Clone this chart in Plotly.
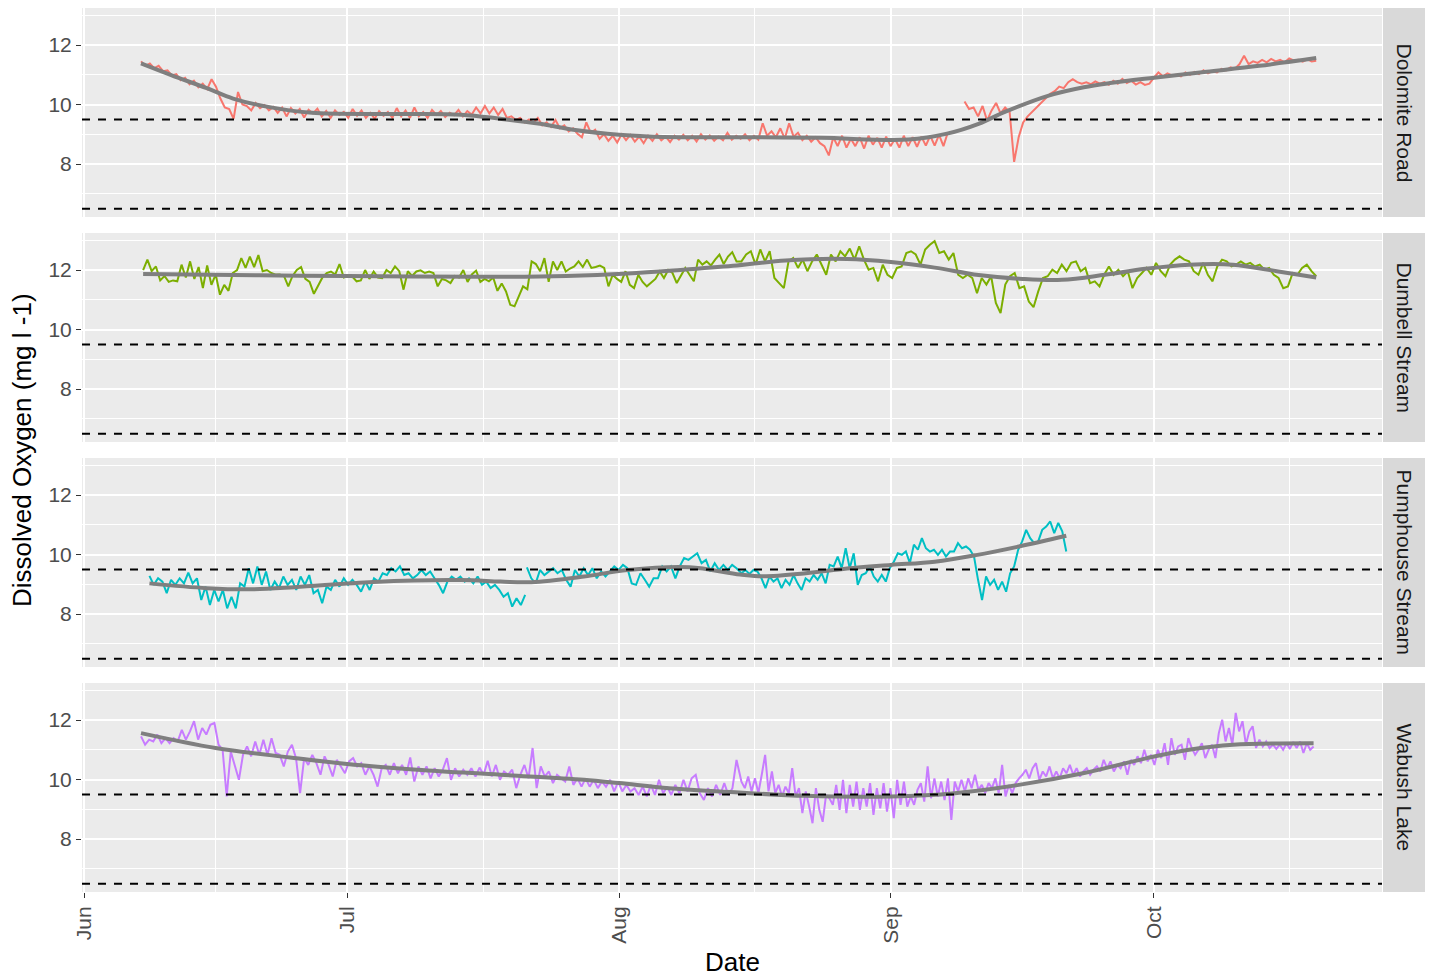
import datetime as dt
import plotly.graph_objects as go

# ---------------- data ----------------
BASE_DATE = dt.datetime(2018, 6, 1)   # day 0 of the season

SITES = ["Dolomite Road", "Dumbell Stream", "Pumphouse Stream", "Wabush Lake"]
COLORS = ["#F8766D", "#7CAE00", "#00BFC4", "#C77CFF"]
HLINES = [9.5, 6.5]

X_TICK_DATES = ["2018-06-01", "2018-07-01", "2018-08-01", "2018-09-01", "2018-10-01"]
X_TICK_LABELS = ["Jun", "Jul", "Aug", "Sep", "Oct"]
X_MINOR_DATES = ["2018-06-16", "2018-07-16 12:00", "2018-08-16 12:00", "2018-09-16", "2018-10-16 12:00"]
Y_TICKS = [8, 10, 12]
Y_MINOR = [7, 9, 11, 13]
X_RANGE_DAYS = (-0.23, 148.0)
Y_RANGE = (6.219, 13.244)

# Dolomite Road (days since Jun 1 for each segment span)
DOL_SPAN_1 = (6.5, 98.5)
DOL_DO_1 = [11.45, 11.3, 11.38, 11.22, 11.3, 11.12, 11.15, 10.98, 11.02, 10.82, 10.9, 10.68, 10.8, 10.58, 10.7, 10.52, 10.85,
            10.6, 10.2, 9.9, 9.85, 9.52, 10.42, 10.0, 9.95,
            9.8, 10.05, 9.88, 9.98, 9.8, 9.92, 9.72, 9.9, 9.6, 9.88, 9.7, 9.85, 9.56, 9.82, 9.7, 9.86, 9.6, 9.78, 9.55, 9.8, 9.65, 9.75, 9.55,
            9.85, 9.62, 9.8, 9.55, 9.72, 9.52, 9.78, 9.62, 9.75, 9.55, 9.88, 9.6, 9.8, 9.55, 9.9, 9.6, 9.75, 9.55, 9.82, 9.65, 9.78, 9.58, 9.72, 9.64, 9.82, 9.6, 9.78, 9.66, 9.9, 9.7,
            9.95, 9.7, 9.9, 9.65, 9.85, 9.55, 9.6, 9.48, 9.55, 9.4, 9.5, 9.38, 9.55, 9.3, 9.4, 9.25, 9.48, 9.2, 9.3, 9.1, 9.2, 9.02, 8.9,
            9.4, 9.05, 9.15, 8.85, 9.0, 8.78, 8.95, 8.72, 9.0, 8.8, 8.98, 8.75, 8.92, 8.7, 8.95, 8.78, 9.0, 8.8, 8.92, 8.74, 8.95, 8.82,
            8.98, 8.8, 8.95, 8.76, 9.0, 8.82, 8.96, 8.78, 8.92, 8.8, 9.05, 8.82, 8.95, 8.85, 9.0, 8.8, 8.95, 8.82,
            9.37, 8.95, 9.1, 8.9, 9.2, 8.85, 9.37, 8.92, 9.05, 8.8, 8.95, 8.75, 8.9, 8.7, 8.6, 8.29,
            8.9, 8.6, 8.95, 8.55, 8.85, 8.6, 8.9, 8.52, 8.95, 8.65, 8.88, 8.55, 8.92, 8.6, 8.85, 8.55, 8.95, 8.6, 8.9, 8.58, 8.92, 8.62, 8.95, 8.62, 8.98, 8.6, 9.07]
DOL_SPAN_2 = (100.4, 140.5)
DOL_DO_2 = [10.1, 9.85, 9.9, 9.6, 9.95, 9.46, 9.8, 10.05, 9.7, 9.9, 9.75,
            8.07, 8.9, 9.4, 9.6, 9.75, 9.9, 10.05, 10.2, 10.36, 10.45, 10.6, 10.55, 10.75, 10.85, 10.75, 10.7,
            10.75, 10.68, 10.78, 10.7, 10.75, 10.66, 10.8, 10.7, 10.86, 10.72, 10.8, 10.67, 10.75, 10.66, 10.7,
            10.9, 11.08, 10.95, 11.05, 10.98, 11.0, 10.95, 11.08, 11.0, 11.1, 11.02, 11.15, 11.05, 11.12, 11.08, 11.2, 11.15, 11.25, 11.2,
            11.36, 11.64, 11.36, 11.45, 11.4, 11.5, 11.42, 11.53, 11.45, 11.5, 11.42, 11.55, 11.48, 11.5, 11.44, 11.52, 11.45, 11.47]

# Dumbell Stream
DUM_SPAN_1 = (6.74, 74.4)
DUM_DO_1 = [12.0, 12.35, 11.96, 12.12, 11.65, 11.8, 11.6, 11.65, 11.62, 12.18, 11.75, 12.29, 11.7, 12.1, 11.39, 12.15, 11.5, 11.85,
            11.17, 11.5, 11.3, 11.9, 12.0, 12.4, 12.07, 12.45, 12.1, 12.5, 11.96, 12.0, 11.9, 11.84, 11.85, 11.8, 11.45, 11.8,
            12.0, 12.1, 11.7, 11.6, 11.2, 11.5, 11.75, 11.9, 11.95, 11.85, 12.2, 11.75, 11.8, 11.78, 11.62, 11.65, 12.0, 11.7,
            11.95, 11.75, 11.73, 12.0, 11.9, 12.12, 11.96, 11.34, 11.96, 11.8, 11.95, 11.99, 11.9, 11.95, 11.9, 11.45, 11.7,
            11.65, 11.56, 11.8, 11.75, 12.0, 11.6, 11.85, 11.98, 11.6, 11.7, 11.62, 11.75, 11.3, 11.55, 11.28, 10.83, 10.78,
            11.1, 11.45, 11.35, 12.29, 12.2, 11.96, 12.4, 11.6, 12.29, 12.0, 12.29, 11.95, 12.05, 12.12, 12.29, 12.1, 12.35,
            12.07, 12.1, 12.15, 12.07, 11.45, 11.84, 11.7, 11.6, 11.96, 11.5, 11.39, 11.84, 11.6, 11.45, 11.56, 11.7, 11.95,
            11.73, 12.0, 11.9, 11.56, 11.8, 12.07, 11.84, 11.62, 12.35, 12.18, 12.29, 12.15, 12.35, 12.52, 12.2, 12.45, 12.6, 12.29]
DUM_SPAN_2 = (74.96, 140.5)
DUM_DO_2 = [12.29, 12.52, 12.63, 12.18, 12.69, 12.29, 12.63, 11.73, 11.56, 11.39, 12.29, 12.4, 12.07, 12.35, 11.96, 12.29,
            12.52, 12.18, 11.84, 12.52, 12.29, 12.63, 12.46, 12.72, 12.35, 12.8, 12.35, 12.01, 12.07, 11.62, 12.18, 11.84,
            11.73, 12.07, 12.12, 12.57, 12.63, 12.52, 12.18, 12.69, 12.85, 12.97, 12.57, 12.63, 12.35, 12.57, 11.84, 11.73,
            11.84, 11.73, 11.22, 11.73, 11.51, 11.79, 10.89, 10.55, 11.51, 11.79, 11.9, 11.39, 11.45, 10.94, 10.75, 11.28,
            11.73, 11.79, 12.01, 11.9, 12.18, 11.96, 12.24, 12.29, 11.96, 12.07, 11.56, 11.62, 11.45, 11.84, 12.12, 11.84,
            12.01, 11.79, 11.96, 11.39, 11.73, 11.9, 12.07, 11.84, 12.24, 11.96, 11.79, 12.18, 12.35, 12.46, 12.35, 12.29,
            11.96, 11.84, 12.24, 11.84, 11.62, 12.12, 12.35, 12.29, 12.12, 12.18, 12.29, 12.18, 12.24, 12.12, 12.18, 12.01,
            12.07, 11.84, 11.73, 11.39, 11.45, 11.9, 11.84, 12.07, 12.18, 11.96, 11.79]

# Pumphouse Stream
PUM_SPAN_1 = (7.46, 50.3)
PUM_DO_1 = [9.28, 8.98, 9.2, 9.09, 8.7, 9.15, 8.98, 9.2, 9.03, 9.39, 9.03, 9.2, 8.47, 8.92, 8.3, 8.81, 8.42, 8.81, 8.19,
            8.58, 8.19, 9.03, 8.92, 9.54, 9.03, 9.6, 8.98, 9.43, 8.81, 9.09, 8.87, 9.26, 8.98, 9.15, 8.81, 9.26, 8.98, 9.31,
            8.7, 8.81, 8.36, 8.92, 8.81, 9.15, 8.92, 9.2, 8.98, 9.15, 8.98, 8.75, 9.09, 8.81, 9.2, 9.09, 9.37, 9.31, 9.54,
            9.43, 9.6, 9.31, 9.37, 9.2, 9.31, 9.48, 9.31, 9.43, 9.2, 8.98, 8.7, 9.09, 9.26, 9.15, 9.26, 9.09, 9.2, 9.03, 9.26,
            8.98, 9.09, 8.87, 8.98, 8.81, 8.58, 8.7, 8.25, 8.53, 8.3, 8.64]
PUM_SPAN_2 = (50.5, 74.4)
PUM_DO_2 = [9.57, 9.2, 9.03, 9.48, 9.31, 9.43, 9.54, 9.37, 9.48, 9.15, 8.92, 9.48, 9.26, 9.54, 9.31, 9.54, 9.2, 9.43,
            9.26, 9.43, 9.6, 9.48, 9.65, 9.54, 9.03, 8.98, 9.37, 9.15, 8.92, 9.2, 9.2, 9.6, 9.43, 9.6, 9.2, 9.6, 9.88, 9.82,
            9.93, 10.04, 9.71, 9.82, 9.43, 9.71, 9.48, 9.65, 9.48, 9.65, 9.54]
PUM_SPAN_3 = (74.96, 112.0)
PUM_DO_3 = [9.37, 9.48, 9.35, 9.48, 9.43, 9.2, 8.87, 9.26, 9.09, 9.2, 8.87, 9.15, 8.98, 9.31, 9.03, 8.81, 9.2, 9.09, 9.31,
            9.15, 9.37, 9.03, 9.65, 9.6, 9.93, 9.54, 10.21, 9.54, 10.04, 8.98, 9.31, 9.37, 9.6, 9.26, 9.09, 9.31, 9.09, 9.54,
            9.76, 10.04, 9.99, 10.1, 9.71, 10.33, 10.16, 10.55, 10.21, 10.1, 10.16, 9.99, 10.16, 9.93, 10.1, 10.1, 10.38,
            10.21, 10.27, 10.16, 9.93, 9.15, 8.47, 9.26, 8.98, 9.15, 8.81, 9.09, 8.75, 9.37, 9.6, 10.16, 10.44, 10.83, 10.55,
            10.38, 10.44, 10.83, 10.94, 11.11, 10.72, 11.06, 10.78, 10.1]

# Wabush Lake
WAB_SPAN_1 = (6.5, 74.4)
WAB_DO_1 = [11.45, 11.17, 11.34, 11.28, 11.51, 11.22, 11.39, 11.22, 11.39, 11.28, 11.67, 11.34, 11.62, 11.96, 11.34, 11.73,
            11.51, 11.84, 11.9, 11.17, 11.0, 9.43, 10.94, 10.49, 9.99, 10.83, 11.11, 10.78, 11.28, 10.83, 11.34, 10.83, 11.39,
            10.89, 10.83, 10.44, 10.94, 11.17, 10.72, 9.54, 10.72, 10.49, 10.83, 10.55, 10.16, 10.78, 10.49, 10.1, 10.66,
            10.44, 10.21, 10.61, 10.72, 10.44, 10.55, 10.16, 10.44, 10.16, 9.76, 10.38, 10.49, 10.16, 10.55, 10.21, 10.49,
            10.16, 10.74, 9.93, 10.44, 10.16, 10.44, 10.04, 10.38, 10.1, 10.33, 10.72, 9.99, 10.38, 10.1, 10.33, 10.16, 10.38,
            10.1, 10.4, 10.16, 10.63, 10.1, 10.49, 9.99, 10.27, 10.16, 10.33, 9.71, 10.16, 10.49, 10.04, 11.06, 9.71, 10.44,
            10.1, 10.27, 9.88, 10.16, 10.04, 9.93, 10.44, 9.82, 10.04, 9.76, 10.04, 9.76, 9.99, 9.71, 9.93, 9.76, 9.99, 9.6,
            9.93, 9.6, 9.82, 9.6, 9.71, 9.48, 9.76, 9.43, 9.82, 9.48, 9.99, 9.54, 9.76, 9.48, 9.82, 9.54, 9.99, 9.6, 10.04,
            10.16, 9.54, 9.31, 9.71, 9.43, 9.82, 9.48, 9.88, 9.48, 9.71, 10.66]
WAB_SPAN_2 = (74.96, 140.2)
WAB_DO_2 = [9.93, 9.71, 10.1, 9.6, 10.04, 9.54, 10.16, 10.83, 9.6, 10.27, 9.54, 9.82, 9.43, 9.76, 9.54, 10.38, 9.43, 9.71,
            8.87, 9.6, 9.09, 8.53, 9.71, 8.98, 8.58, 9.48, 9.37, 9.15, 9.82, 8.98, 9.99, 8.87, 9.82, 9.09, 9.93, 8.98, 9.71,
            9.09, 9.88, 8.81, 9.71, 9.03, 9.88, 8.92, 9.71, 8.7, 9.99, 9.15, 9.93, 9.09, 9.43, 9.15, 9.65, 9.88, 9.26, 10.44,
            9.37, 10.04, 9.43, 9.93, 9.31, 10.04, 8.64, 9.93, 9.6, 9.99, 9.6, 10.04, 9.71, 10.16, 9.65, 9.82, 9.54, 9.88, 9.71,
            10.04, 9.54, 10.49, 9.43, 9.82, 9.54, 9.88, 10.04, 10.16, 10.33, 10.04, 10.38, 10.55, 9.99, 10.27, 10.1, 10.44,
            10.04, 10.27, 10.04, 10.38, 10.21, 10.49, 10.16, 10.38, 10.1, 10.27, 10.38, 10.16, 10.33, 10.44, 10.27, 10.66,
            10.38, 10.61, 10.27, 10.49, 10.38, 10.61, 10.16, 10.66, 10.49, 10.78, 10.55, 11.0, 10.61, 10.83, 10.49, 11.0,
            10.72, 11.22, 10.49, 11.39, 10.83, 11.11, 11.17, 10.66, 11.39, 11.06, 10.83, 11.0, 11.22, 10.72, 11.0, 11.17,
            10.72, 11.56, 12.01, 11.28, 11.73, 11.17, 12.24, 11.62, 11.96, 11.17, 11.62, 11.79, 11.06, 11.34, 11.11, 11.28,
            11.06, 11.17, 11.03, 11.17, 11.0, 11.22, 11.03, 11.26, 11.06, 11.28, 10.89, 11.22, 11.0, 11.11]

# loess-like smooth curves (day, value)
DOL_SMOOTH_DAY = [6.5, 10, 14, 17, 21, 26, 34, 43, 47.5, 52, 56, 61, 65, 75, 84, 94, 98.4, 102, 105, 110, 114, 117, 122, 128, 134, 140.5]
DOL_SMOOTH_DO = [11.38, 10.98, 10.55, 10.2, 9.92, 9.72, 9.68, 9.66, 9.52, 9.35, 9.14, 8.98, 8.92, 8.9, 8.88, 8.82, 9.02, 9.35, 9.75, 10.3, 10.58, 10.72, 10.9, 11.1, 11.3, 11.56]
DUM_SMOOTH_DAY = [6.74, 20, 30, 45, 55, 62, 68, 74, 80, 87, 92, 97, 102, 107, 111.5, 116.4, 121, 126, 131, 136, 140.5]
DUM_SMOOTH_DO = [11.87, 11.82, 11.8, 11.77, 11.8, 11.88, 12.0, 12.14, 12.32, 12.37, 12.27, 12.08, 11.83, 11.7, 11.67, 11.84, 12.04, 12.18, 12.18, 11.96, 11.75]
PUM_SMOOTH_DAY = [7.46, 14, 19, 24, 33, 43, 47.5, 51, 57, 62, 69, 74.8, 77.4, 82.3, 87, 92, 97, 101.7, 106.6, 112]
PUM_SMOOTH_DO = [9.03, 8.87, 8.83, 8.9, 9.08, 9.14, 9.09, 9.07, 9.26, 9.48, 9.57, 9.33, 9.27, 9.37, 9.53, 9.65, 9.76, 9.98, 10.27, 10.63]
WAB_SMOOTH_DAY = [6.5, 15, 23.5, 30, 38, 47.5, 57, 61, 66.7, 72.5, 82.3, 92, 99.3, 106.6, 113.9, 121.2, 126, 131, 140.2]
WAB_SMOOTH_DO = [11.56, 11.06, 10.74, 10.52, 10.33, 10.16, 9.99, 9.88, 9.71, 9.6, 9.45, 9.43, 9.54, 9.82, 10.21, 10.72, 11.0, 11.17, 11.22]

SEGMENTS = {
    "Dolomite Road": [(DOL_SPAN_1, DOL_DO_1, False), (DOL_SPAN_2, DOL_DO_2, True)],
    "Dumbell Stream": [(DUM_SPAN_1, DUM_DO_1, False), (DUM_SPAN_2, DUM_DO_2, False)],
    "Pumphouse Stream": [(PUM_SPAN_1, PUM_DO_1, False), (PUM_SPAN_2, PUM_DO_2, True), (PUM_SPAN_3, PUM_DO_3, False)],
    "Wabush Lake": [(WAB_SPAN_1, WAB_DO_1, False), (WAB_SPAN_2, WAB_DO_2, False)],
}
SMOOTHS = {
    "Dolomite Road": (DOL_SMOOTH_DAY, DOL_SMOOTH_DO),
    "Dumbell Stream": (DUM_SMOOTH_DAY, DUM_SMOOTH_DO),
    "Pumphouse Stream": (PUM_SMOOTH_DAY, PUM_SMOOTH_DO),
    "Wabush Lake": (WAB_SMOOTH_DAY, WAB_SMOOTH_DO),
}


def to_date(day):
    return BASE_DATE + dt.timedelta(days=day)


def build(segs):
    xs, ys = [], []
    for (d0, d1), vals, gap in segs:
        if gap and xs:
            xs.append(None)
            ys.append(None)
        n = len(vals)
        for i, v in enumerate(vals):
            xs.append(to_date(d0 + (d1 - d0) * i / (n - 1)))
            ys.append(v)
    return xs, ys


# ---------------- layout geometry (pixels of the 1432x977 canvas) ----------------
W, H = 1432, 977
PANEL_X = (82, 1382)
STRIP_X = (1383, 1425)
PANELS_Y = [(8, 217), (233, 442), (458, 667), (683, 892)]
FONT = "Liberation Sans, Arial, Helvetica, sans-serif"


def px(x):
    return x / W


def py(y):
    return 1 - y / H


fig = go.Figure()
shapes, annotations = [], []
layout = dict(
    width=W, height=H, margin=dict(l=0, r=0, t=0, b=0, autoexpand=False),
    paper_bgcolor="white", plot_bgcolor="#EBEBEB",
    showlegend=False, font=dict(family=FONT),
)

for i, site in enumerate(SITES):
    sfx = "" if i == 0 else str(i + 1)
    xa, ya = "x" + sfx, "y" + sfx
    xs, ys = build(SEGMENTS[site])
    fig.add_trace(go.Scatter(x=xs, y=ys, mode="lines", connectgaps=False,
                             line=dict(color=COLORS[i], width=2.0),
                             xaxis=xa, yaxis=ya, hoverinfo="skip"))
    sd, sv = SMOOTHS[site]
    fig.add_trace(go.Scatter(x=[to_date(d) for d in sd], y=sv, mode="lines",
                             line=dict(color="#7F7F7F", width=4, shape="spline", smoothing=1.0),
                             xaxis=xa, yaxis=ya, hoverinfo="skip"))

    top, bot = PANELS_Y[i]
    last = i == len(SITES) - 1
    layout["xaxis" + sfx] = dict(
        domain=[px(PANEL_X[0]), px(PANEL_X[1])], anchor=ya, automargin=False,
        type="date", range=[to_date(X_RANGE_DAYS[0]), to_date(X_RANGE_DAYS[1])],
        tickmode="array", tickvals=X_TICK_DATES, ticktext=X_TICK_LABELS,
        showgrid=True, gridcolor="white", gridwidth=2, zeroline=False, showline=False,
        minor=dict(tickmode="array", tickvals=X_MINOR_DATES, showgrid=True, gridcolor="white", gridwidth=1, ticks=""),
        showticklabels=last, ticks="outside" if last else "", ticklen=5, tickwidth=1.2, tickcolor="#333333",
        tickangle=-90, tickfont=dict(size=21, color="#4D4D4D", family=FONT),
        **({} if i == 0 else {"matches": "x"}),
    )
    layout["yaxis" + sfx] = dict(
        domain=[py(bot), py(top)], anchor=xa, automargin=False,
        range=list(Y_RANGE), tickmode="array", tickvals=Y_TICKS,
        showgrid=True, gridcolor="white", gridwidth=2, zeroline=False, showline=False,
        minor=dict(tickmode="array", tickvals=Y_MINOR, showgrid=True, gridcolor="white", gridwidth=1, ticks=""),
        ticks="outside", ticklen=5, tickwidth=1.2, tickcolor="#333333",
        tickfont=dict(size=21, color="#4D4D4D", family=FONT),
    )
    for hv in HLINES:
        shapes.append(dict(type="line", xref=xa + " domain", x0=0, x1=1, yref=ya, y0=hv, y1=hv,
                           line=dict(color="black", width=2, dash="8px,8px"), layer="above"))
    shapes.append(dict(type="rect", xref="paper", yref="paper",
                       x0=px(STRIP_X[0]), x1=px(STRIP_X[1]), y0=py(bot), y1=py(top),
                       fillcolor="#D9D9D9", line=dict(width=0), layer="below"))
    annotations.append(dict(text=site, xref="paper", yref="paper",
                            x=px((STRIP_X[0] + STRIP_X[1]) / 2), y=py((top + bot) / 2),
                            textangle=90, showarrow=False, xanchor="center", yanchor="middle",
                            font=dict(size=21, color="#1A1A1A", family=FONT)))

annotations.append(dict(text="Dissolved Oxygen (mg l -1)", xref="paper", yref="paper",
                        x=px(22), y=py((PANELS_Y[0][0] + PANELS_Y[-1][1]) / 2), textangle=-90,
                        showarrow=False, xanchor="center", yanchor="middle",
                        font=dict(size=26, color="black", family=FONT)))
annotations.append(dict(text="Date", xref="paper", yref="paper",
                        x=px((PANEL_X[0] + PANEL_X[1]) / 2), y=py(962),
                        showarrow=False, xanchor="center", yanchor="middle",
                        font=dict(size=26, color="black", family=FONT)))

layout["shapes"] = shapes
layout["annotations"] = annotations
fig.update_layout(**layout)

fig.write_html("out.html", include_plotlyjs=True,
               config={"displayModeBar": False},
               post_script="document.body.style.margin='0px';")
